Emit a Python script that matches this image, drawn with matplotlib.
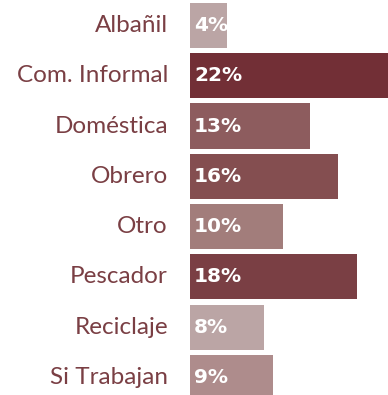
import matplotlib
matplotlib.use("Agg")
import matplotlib.pyplot as plt

categories = ["Albañil", "Com. Informal", "Doméstica", "Obrero", "Otro",
              "Pescador", "Reciclaje", "Si Trabajan"]
values = [4, 22, 13, 16, 10, 18, 8, 9]
bar_colors = ["#bba5a5", "#722f36", "#8d5c5e", "#844e50", "#a27d7b",
              "#7a3f44", "#bba5a5", "#ae8c8c"]

fig = plt.figure(figsize=(3.88, 3.95), dpi=100)
ax = fig.add_axes([190 / 388, 0.0, 1 - 190 / 388, 1.0])

y = list(range(len(categories)))
ax.barh(y, values, height=0.9, color=bar_colors, left=0)
ax.set_ylim(7.35, -0.507)
ax.set_xlim(0, 21.4)

label_color = "#7a3f44"
for yi, cat, v in zip(y, categories, values):
    ax.annotate(cat, xy=(0, yi), xytext=(-22, 0), textcoords="offset pixels",
                ha="right", va="center", fontsize=17.5, color=label_color,
                family="Lato")
    ax.annotate(f"{v}%", xy=(0, yi), xytext=(4, 0), textcoords="offset pixels",
                ha="left", va="center", fontsize=14.5, color="white",
                fontweight="bold", family="DejaVu Sans")

ax.axis("off")
fig.savefig("out.png", dpi=100)
